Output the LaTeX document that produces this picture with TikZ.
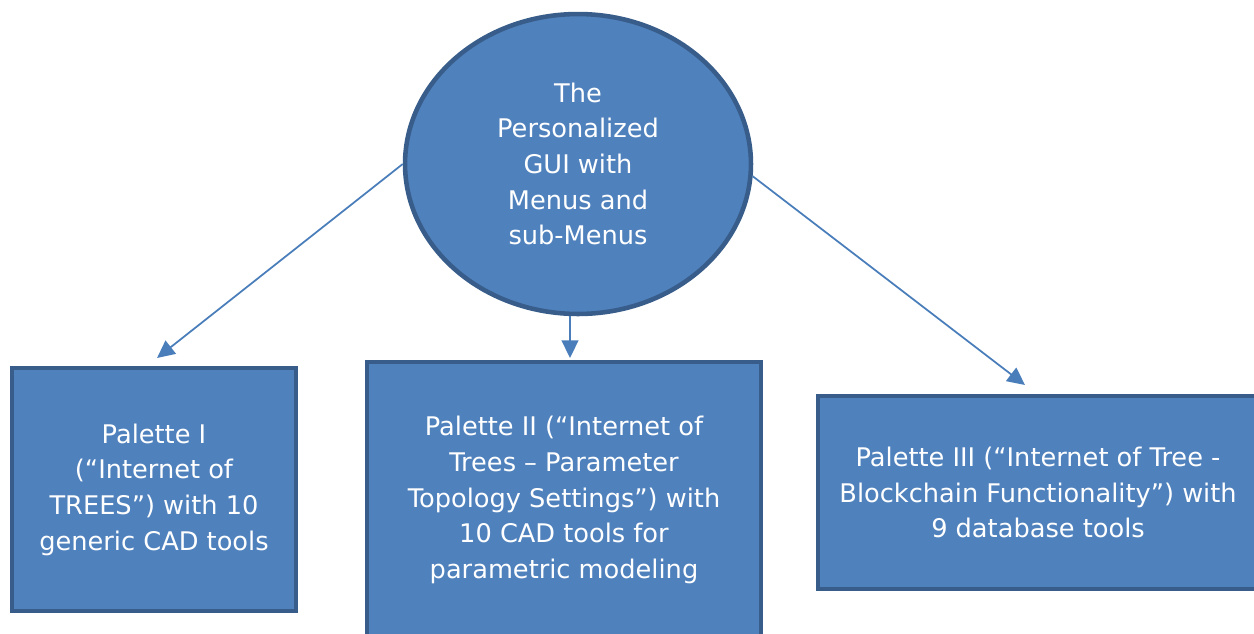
\documentclass[tikz,border=0pt]{standalone}
\usepackage{fontspec}
\setmainfont{DejaVu Sans}
\usepackage{xcolor}
\usetikzlibrary{shapes.geometric}
\usetikzlibrary{arrows.meta}
\definecolor{boxfill}{HTML}{4F81BD}
\definecolor{boxline}{HTML}{385D8A}
\definecolor{arrowline}{HTML}{4A7EBB}
\tikzset{
    guinode/.style = {ellipse, draw=boxline, fill=boxfill, line width=2.6pt, align=center, text=white, inner sep=0pt},
    palnode/.style = {rectangle, draw=boxline, fill=boxfill, line width=2.6pt, align=center, text=white, inner sep=0pt},
}

\begin{document}
\begin{tikzpicture}[
	x=0.02cm, y=-0.02cm,
	font=\fontsize{14.6}{20.3}\selectfont
]
\tikzset{
    edgea/.style = {-{Triangle[length=10pt,width=9.5pt]}, draw=arrowline, line width=1pt}
}
\useasboundingbox (0,0) rectangle (1254,633);
\node[guinode, minimum width=6.92cm, minimum height=6.0cm] at (578,164) (gui)
    {The\\Personalized\\GUI with\\Menus and\\sub-Menus};
\node[palnode, minimum width=5.68cm, minimum height=4.86cm] at (154,489.5) (p1)
    {Palette I\\(“Internet of\\TREES”) with 10\\generic CAD tools};
\node[palnode, minimum width=7.88cm, minimum height=5.52cm] at (564,500) (p2)
    {Palette II (“Internet of\\Trees – Parameter\\Topology Settings”) with\\10 CAD tools for\\parametric modeling};
\node[palnode, minimum width=8.8cm, minimum height=3.86cm] at (1038,492.5) (p3)
    {Palette III (“Internet of Tree -\\Blockchain Functionality”) with\\9 database tools};
\coordinate (t1) at (157,358);
\coordinate (t3) at (1025,385);
%
\draw[edgea] (gui.west) -- (t1);
\draw[edgea] (gui.south -| 570,0) -- (570,358) coordinate (t2);
\draw[edgea] (gui.-4) -- (t3);
\end{tikzpicture}
\end{document}
